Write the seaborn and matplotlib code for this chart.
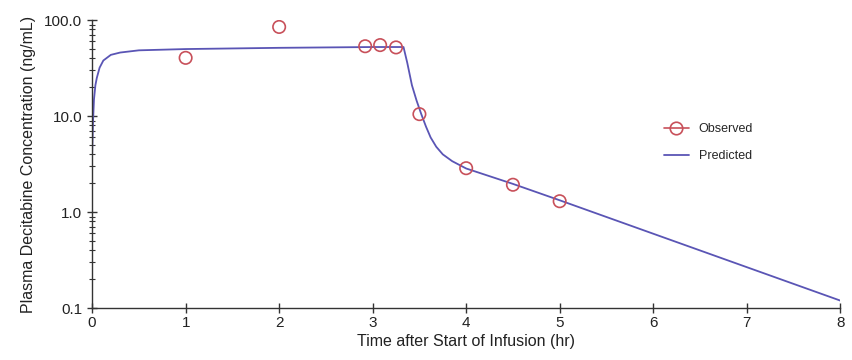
import numpy as np
import pandas as pd
import matplotlib
matplotlib.use("Agg")
import matplotlib.pyplot as plt
from matplotlib.lines import Line2D
from matplotlib.ticker import FixedLocator, LogLocator, NullFormatter
import seaborn as sns

# Observed data
obs_time = [1.0, 2.0, 2.92, 3.08, 3.25, 3.5, 4.0, 4.5, 5.0]
obs_conc = [40.5, 85.0, 53.5, 55.0, 52.0, 10.5, 2.87, 1.93, 1.30]

# Predicted curve
pred_time = [0.0, 0.01, 0.02, 0.035, 0.05, 0.08, 0.12, 0.2, 0.3, 0.5, 1.0, 2.0, 3.0,
             3.33, 3.37, 3.42, 3.47, 3.52, 3.57, 3.62, 3.68, 3.75, 3.85, 4.0, 4.5, 5.0, 8.0]
pred_conc = [4.0, 9.0, 15.0, 21.0, 25.0, 32.0, 38.0, 43.5, 46.0, 48.5, 50.0, 51.5, 52.5,
             52.5, 36.0, 21.0, 14.5, 10.5, 7.8, 6.0, 4.8, 4.0, 3.4, 2.85, 1.97, 1.33, 0.12]

y_ticks = [0.1, 1.0, 10.0, 100.0]
y_tick_labels = ["0.1", "1.0", "10.0", "100.0"]
x_ticks = [0, 1, 2, 3, 4, 5, 6, 7, 8]

sns.set_style("ticks")
plt.rcParams["font.family"] = ["Liberation Sans", "DejaVu Sans"]

obs_df = pd.DataFrame({"time": obs_time, "conc": obs_conc})
pred_df = pd.DataFrame({"time": pred_time, "conc": pred_conc})

fig = plt.figure(figsize=(8.53, 3.6), dpi=100)
ax = fig.add_axes([0.108, 0.144, 0.877, 0.8])

line_color = "#5a55b5"
obs_color = "#c8505a"

sns.lineplot(data=pred_df, x="time", y="conc", ax=ax, color=line_color, lw=1.3,
             estimator=None, sort=False, zorder=2)
sns.scatterplot(data=obs_df, x="time", y="conc", ax=ax, marker="o", s=80,
                facecolor="none", edgecolor=obs_color, linewidth=1.2, zorder=3)

ax.set_yscale("log")
ax.set_ylim(0.1, 100)
ax.set_xlim(0, 8)
ax.yaxis.set_major_locator(FixedLocator(y_ticks))
ax.set_yticklabels(y_tick_labels)
ax.yaxis.set_minor_locator(LogLocator(base=10, subs=np.arange(2, 10)))
ax.yaxis.set_minor_formatter(NullFormatter())
ax.set_xticks(x_ticks)
ax.set_xticklabels([str(v) for v in x_ticks])

for s in ["top", "right"]:
    ax.spines[s].set_visible(False)
for s in ["left", "bottom"]:
    ax.spines[s].set_color("#333333")
    ax.spines[s].set_linewidth(1.0)

ax.tick_params(axis="both", which="major", direction="inout", length=7, width=1.0,
               colors="#333333", labelsize=11, labelcolor="#222222")
ax.tick_params(axis="y", which="minor", direction="inout", length=4, width=0.8,
               colors="#333333")
ax.tick_params(axis="x", pad=2)

ax.set_xlabel("Time after Start of Infusion (hr)", fontsize=11.5, color="#222222",
              labelpad=3)
ax.set_ylabel("Plasma Decitabine Concentration (ng/mL)", fontsize=11.5, color="#222222",
              labelpad=6)

handles = [
    Line2D([0], [0], color=obs_color, lw=1.2, marker="o", markersize=9,
           markerfacecolor="none", markeredgecolor=obs_color, markeredgewidth=1.2),
    Line2D([0], [0], color=line_color, lw=1.3),
]
ax.legend(handles, ["Observed", "Predicted"], loc="center left",
          bbox_to_anchor=(0.765, 0.603), bbox_transform=fig.transFigure,
          frameon=False, fontsize=9, handlelength=2.0, handletextpad=0.8,
          labelspacing=1.2)

fig.savefig("out.png", dpi=100)
